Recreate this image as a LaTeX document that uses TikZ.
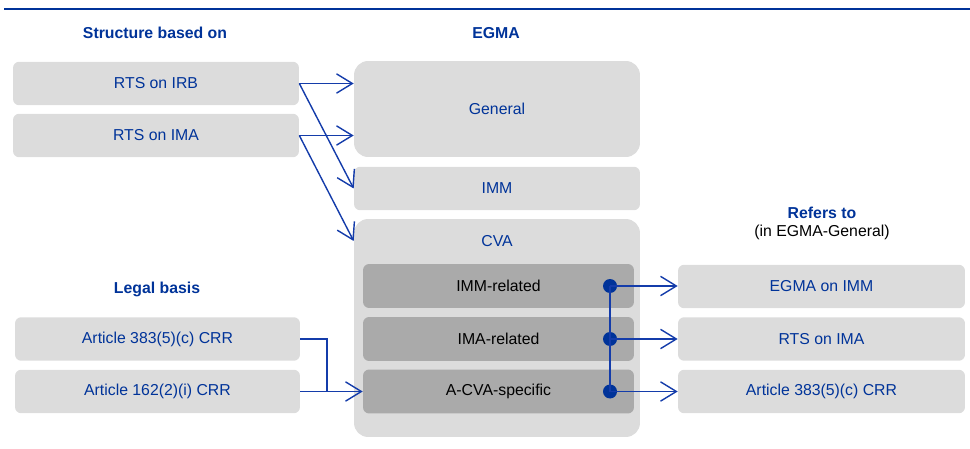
\documentclass[tikz,border=0pt]{standalone}
\usepackage{fontspec}
\setmainfont{Liberation Sans}
\usepackage{xcolor}
\usetikzlibrary{arrows.meta}

\begin{document}
\begin{tikzpicture}[x = 0.02cm,
                    y = -0.02cm,
                    font = \fontsize{9}{11}\selectfont]


  % COLORS
  \definecolor{textcolor_e}{RGB}{ 0,51,153 }
  \definecolor{linecolor_e}{RGB}{ 20,60,170 }
  \definecolor{lightcolor_e}{RGB}{ 220,220,220 }
  \definecolor{darkcolor_e}{RGB}{ 170,170,170 }


  % STYLES
  \tikzstyle{boxstyle_light} = [rectangle, fill=lightcolor_e, draw=none, rounded corners=3.5pt, text=textcolor_e, inner sep=0pt, minimum width=5.72cm, minimum height=0.87cm]
  \tikzstyle{boxstyle_dark} = [rectangle, fill=darkcolor_e, draw=none, rounded corners=3.5pt, text=black, inner sep=0pt, minimum width=5.42cm, minimum height=0.88cm]
  \tikzstyle{headstyle_e} = [text=textcolor_e, font=\fontsize{9}{11}\selectfont\bfseries]
  \tikzstyle{dotstyle_e} = [circle, fill=textcolor_e, draw=none, inner sep=0pt, minimum size=0.28cm]
  \tikzstyle{linestyle_e} = [draw=linecolor_e, line width=0.8pt]
  \tikzstyle{arrowstyle_e} = [linestyle_e, -{Straight Barb[length=9pt, width=11pt, line width=0.8pt]}]


  \useasboundingbox (0,0) rectangle (970,449);


  % TOP RULE
  \coordinate (rule_l) at (4,9);
  \coordinate (rule_r) at (970,9);
  \draw[textcolor_e, line width=1.6pt] (rule_l) -- (rule_r);


  % HEADINGS
  \node[headstyle_e] (head_structure) at (155,33) {Structure based on};
  \node[headstyle_e] (head_egma) at (496,33) {EGMA};
  \node[headstyle_e] (head_legal) at (157,289) {Legal basis};
  \node[headstyle_e] (head_refers) at (822,213) {Refers to};
  \node[text=black, inner sep=1pt] (head_refers_sub) at (822,232) {(in EGMA-General)};


  % STRUCTURE BOXES
  \node[boxstyle_light] (rts_irb) at (156,83.5) {RTS on IRB};
  \node[boxstyle_light] (rts_ima) at (156,135.5) {RTS on IMA};


  % EGMA BOXES
  \node[boxstyle_light, minimum height=1.92cm, rounded corners=8pt] (general) at (497,109) {General};
  \node[boxstyle_light] (imm) at (497,188.5) {IMM};
  \node[boxstyle_light, minimum height=4.36cm, rounded corners=8pt] (cva) at (497,328) {};
  \node[text=textcolor_e] (cva_label) at (497,241) {CVA};
  \node[boxstyle_dark] (imm_related) at (498.5,286) {IMM-related};
  \node[boxstyle_dark] (ima_related) at (498.5,339) {IMA-related};
  \node[boxstyle_dark] (acva_specific) at (498.5,391.5) {A-CVA-specific};


  % LEGAL BOXES
  \node[boxstyle_light, minimum width=5.7cm] (art_383) at (157.5,339) {Article 383(5)(c) CRR};
  \node[boxstyle_light, minimum width=5.7cm] (art_162) at (157.5,391.5) {Article 162(2)(i) CRR};


  % REFERS TO BOXES
  \node[boxstyle_light, minimum width=5.74cm] (ref_imm) at (821.5,286.5) {EGMA on IMM};
  \node[boxstyle_light, minimum width=5.74cm] (ref_ima) at (821.5,339) {RTS on IMA};
  \node[boxstyle_light, minimum width=5.74cm] (ref_383) at (821.5,391.5) {Article 383(5)(c) CRR};


  % DOTS
  \node[dotstyle_e] (dot_imm) at (610,286) {};
  \node[dotstyle_e] (dot_ima) at (610,339) {};
  \node[dotstyle_e] (dot_acva) at (610,391.5) {};


  % ARROWS
  \draw[arrowstyle_e] (rts_irb.east) -- (general.west |- rts_irb.east);
  \draw[arrowstyle_e] (rts_irb.east) -- (imm.west);
  \draw[arrowstyle_e] (rts_ima.east) -- (general.west |- rts_ima.east);
  \draw[arrowstyle_e] (rts_ima.east) -- (cva.west |- cva_label);

  \coordinate (legal_join) at (327,391.5);
  \draw[linestyle_e] (art_383.east) -| (legal_join);
  \draw[arrowstyle_e] (art_162.east) -- (acva_specific.west);

  \draw[linestyle_e] (dot_imm.center) -- (dot_acva.center);
  \draw[arrowstyle_e] (dot_imm.center) -- (ref_imm.west |- dot_imm);
  \draw[arrowstyle_e] (dot_ima.center) -- (ref_ima.west);
  \draw[arrowstyle_e] (dot_acva.center) -- (ref_383.west);

\end{tikzpicture}
\end{document}
